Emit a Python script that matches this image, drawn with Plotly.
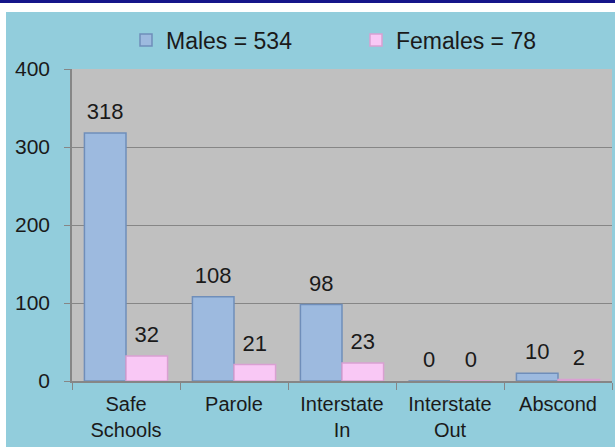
import plotly.graph_objects as go

categories = ["Safe<br>Schools", "Parole", "Interstate<br>In", "Interstate<br>Out", "Abscond"]
males = [318, 108, 98, 0, 10]
females = [32, 21, 23, 0, 2]
series_names = ["Males = 534", "Females = 78"]
y_ticks = [0, 100, 200, 300, 400]

FONT = "Liberation Sans, Arial, sans-serif"

# plot area pixel geometry (for paper-coordinate conversions of decorations)
L, R, T, B = 72, 612, 69, 381
W, H = 615, 447
def px(x):
    return (x - L) / (R - L)
def py(y):
    return (B - y) / (B - T)

series = [
    (series_names[0], males, "#9DBADF", "#6F8EBA"),
    (series_names[1], females, "#F9C8F5", "#D9A0D2"),
]

fig = go.Figure()
for i, (name, vals, col, edge) in enumerate(series):
    fig.add_trace(go.Bar(
        x=categories, y=vals, name=name, offsetgroup=str(i),
        marker=dict(color=col, line=dict(color=edge, width=1.5)),
    ))
for i, (name, vals, col, edge) in enumerate(series):
    # value labels, grouped to sit above each bar
    fig.add_trace(go.Scatter(
        x=categories, y=vals, offsetgroup=str(i), mode="markers+text",
        marker=dict(size=12, opacity=0), text=[str(v) for v in vals],
        textposition="top center", textfont=dict(size=22, color="#1a1a1a", family=FONT),
        showlegend=False, hoverinfo="skip", cliponaxis=False,
    ))

shapes = [
    dict(type="rect", xref="paper", yref="paper", x0=px(0), x1=px(W), y0=py(12), y1=py(0),
         fillcolor="white", line=dict(width=0), layer="below"),
    dict(type="rect", xref="paper", yref="paper", x0=px(0), x1=px(6), y0=py(H), y1=py(0),
         fillcolor="white", line=dict(width=0), layer="below"),
    dict(type="rect", xref="paper", yref="paper", x0=px(0), x1=px(W), y0=py(3), y1=py(0),
         fillcolor="#16168A", line=dict(width=0), layer="below"),
]

fig.update_layout(
    width=W, height=H,
    margin=dict(l=L, r=W - R, t=T, b=H - B, pad=0, autoexpand=False),
    paper_bgcolor="#92CDDC",
    plot_bgcolor="#C0C0C0",
    barmode="group", bargap=0.23, bargroupgap=0,
    scattermode="group", scattergap=0.23,
    font=dict(family=FONT, size=20, color="#1a1a1a"),
    showlegend=True,
    legend=dict(orientation="h", x=px(126), xanchor="left", y=py(40), yanchor="middle",
                bgcolor="rgba(0,0,0,0)", font=dict(size=23, family=FONT),
                entrywidth=185, entrywidthmode="pixels", itemclick=False),
    shapes=shapes,
    xaxis=dict(showline=True, linecolor="#868686", linewidth=1.5,
               ticks="outside", tickson="boundaries", ticklen=7, tickcolor="#868686",
               ticklabelstandoff=4,
               tickfont=dict(size=20, family=FONT), showgrid=False, automargin=False),
    yaxis=dict(range=[0, 400], tickvals=y_ticks, showline=True, linecolor="#868686", linewidth=1.5,
               ticks="outside", ticklen=6, tickcolor="#868686", ticklabelstandoff=10,
               gridcolor="#868686", gridwidth=1,
               tickfont=dict(size=21, family=FONT), zeroline=False, automargin=False),
)

fig.write_html("out.html", config={"displayModeBar": False},
               post_script="document.body.style.margin='0';document.body.style.overflow='hidden';")
